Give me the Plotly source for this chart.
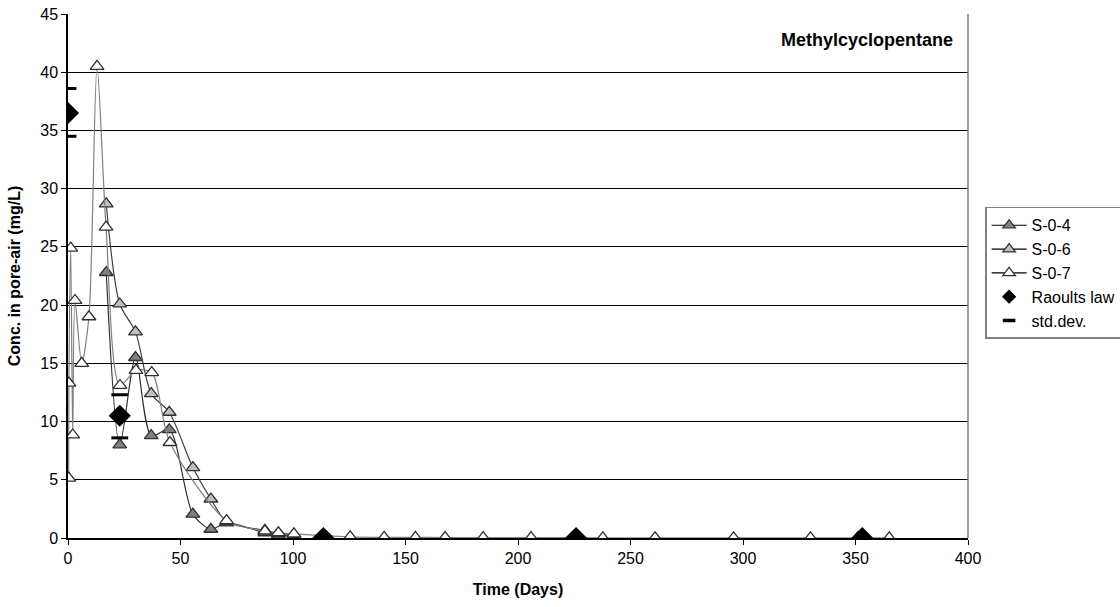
import plotly.graph_objects as go

# ---- data ----
days_s04 = [17, 23, 30, 37, 45, 55.5, 63.5, 70.5, 87.5, 93.5, 100.4]
conc_s04 = [22.8, 8.0, 15.5, 8.8, 9.3, 2.05, 0.75, 1.3, 0.45, 0.25, 0.15]

days_s06 = [17, 23, 30, 37, 45, 55.5, 63.5, 70.5, 87.5, 93.5, 100.4]
conc_s06 = [28.7, 20.1, 17.7, 12.4, 10.8, 6.05, 3.35, 1.4, 0.65, 0.4, 0.3]

days_s07 = [0.3, 0.4, 1.2, 2.1, 3.1, 6.1, 9.3, 12.9, 16.9, 23.1, 30.2, 37.2, 45.3, 70.5,
            87.5, 93.5, 100.4, 125.4, 140.5, 154.4, 167.6, 184.5, 205.8, 237.7,
            260.9, 295.8, 330, 351, 365]
conc_s07 = [5.15, 13.3, 24.9, 8.85, 20.4, 15.0, 19.0, 40.5, 26.7, 13.1, 14.4, 14.2, 8.2, 1.5,
            0.6, 0.45, 0.35, 0.1, 0.05, 0.05, 0.04, 0.03, 0.03, 0.02,
            0.02, 0.02, 0.02, 0.02, 0.02]

days_raoult = [0, 23, 113.5, 225.8, 353]
conc_raoult = [36.5, 10.5, 0.0, 0.0, 0.0]

days_std = [0, 0, 23, 23, 113.5, 225.8, 353]
conc_std = [38.6, 34.5, 12.3, 8.6, 0.0, 0.0, 0.0]

x_ticks = [0, 50, 100, 150, 200, 250, 300, 350, 400]
y_ticks = [0, 5, 10, 15, 20, 25, 30, 35, 40, 45]

FONT = "Liberation Sans, Arial, sans-serif"
FS = 16

series = [
    ("S-0-4", days_s04, conc_s04, "#303030", "#808080"),
    ("S-0-6", days_s06, conc_s06, "#404040", "#c0c0c0"),
    ("S-0-7", days_s07, conc_s07, "#808080", "#ffffff"),
]

fig = go.Figure()

for name, xs, ys, lc, fc in series:
    fig.add_trace(go.Scatter(
        x=xs, y=ys, name=name, mode="lines+markers", showlegend=False,
        line=dict(color=lc, width=1.2, shape="spline", smoothing=0.8),
        marker=dict(symbol="triangle-up", size=12, color=fc,
                    line=dict(color="#303030", width=1.3))))

fig.add_trace(go.Scatter(
    x=days_raoult, y=conc_raoult, name="Raoults law", mode="markers", showlegend=False,
    marker=dict(symbol="diamond", size=17, color="#000000")))
fig.add_trace(go.Scatter(
    x=days_std, y=conc_std, name="std.dev.", mode="markers", showlegend=False,
    marker=dict(symbol="line-ew", size=12, color="#000000",
                line=dict(color="#000000", width=3))))

# legend entries (smaller symbols, as in the reference legend)
for name, xs, ys, lc, fc in series:
    fig.add_trace(go.Scatter(
        x=[None], y=[None], name=name, mode="lines+markers",
        line=dict(color="#000000", width=1.2),
        marker=dict(symbol="triangle-up", size=11, color=fc,
                    line=dict(color="#303030", width=1.2))))
fig.add_trace(go.Scatter(
    x=[None], y=[None], name="Raoults law", mode="markers",
    marker=dict(symbol="diamond", size=11, color="#000000")))
fig.add_trace(go.Scatter(
    x=[None], y=[None], name="std.dev.", mode="markers",
    marker=dict(symbol="line-ew", size=9, color="#000000",
                line=dict(color="#000000", width=3.5))))

fig.add_annotation(
    x=0.9856, y=0.950, xref="paper", yref="paper", xanchor="right", yanchor="middle",
    text="<b>Methylcyclopentane</b>", showarrow=False,
    font=dict(family=FONT, size=18, color="#000000"))

# right border of plot area (gray)
fig.add_shape(type="line", xref="paper", yref="paper", x0=1, x1=1, y0=0, y1=1,
              line=dict(color="#808080", width=1.5))

fig.update_layout(
    width=1120, height=607,
    margin=dict(l=68, r=152, t=14, b=69, autoexpand=False),
    paper_bgcolor="white", plot_bgcolor="white",
    font=dict(family=FONT, size=FS, color="#000000"),
    showlegend=True,
    legend=dict(x=1.019, y=0.632, xanchor="left", yanchor="top",
                bgcolor="white", bordercolor="#808080", borderwidth=1.5,
                font=dict(family=FONT, size=FS, color="#000000"),
                tracegroupgap=0, itemwidth=35),
    xaxis=dict(range=[0, 400], tickvals=x_ticks, ticks="outside", ticklen=5,
               tickcolor="#000000", tickwidth=1.3, showline=True, linecolor="#000000", linewidth=1.5,
               showgrid=False, zeroline=False, automargin=False, ticklabeloverflow="allow",
               title=dict(text="<b>Time (Days)</b>", font=dict(family=FONT, size=FS), standoff=18)),
    yaxis=dict(range=[0, 45], tickvals=y_ticks, ticks="outside", ticklen=5,
               tickcolor="#000000", tickwidth=1.3, showline=True, linecolor="#000000", linewidth=1.5,
               showgrid=True, gridcolor="#000000", gridwidth=1.3, zeroline=False, automargin=False,
               ticklabeloverflow="allow",
               title=dict(text="<b>Conc. in pore-air (mg/L)</b>", font=dict(family=FONT, size=FS), standoff=16)),
)

fig.write_html("out.html",
               config={"displayModeBar": False},
               post_script="document.body.style.margin='0';document.body.style.overflow='hidden';")
